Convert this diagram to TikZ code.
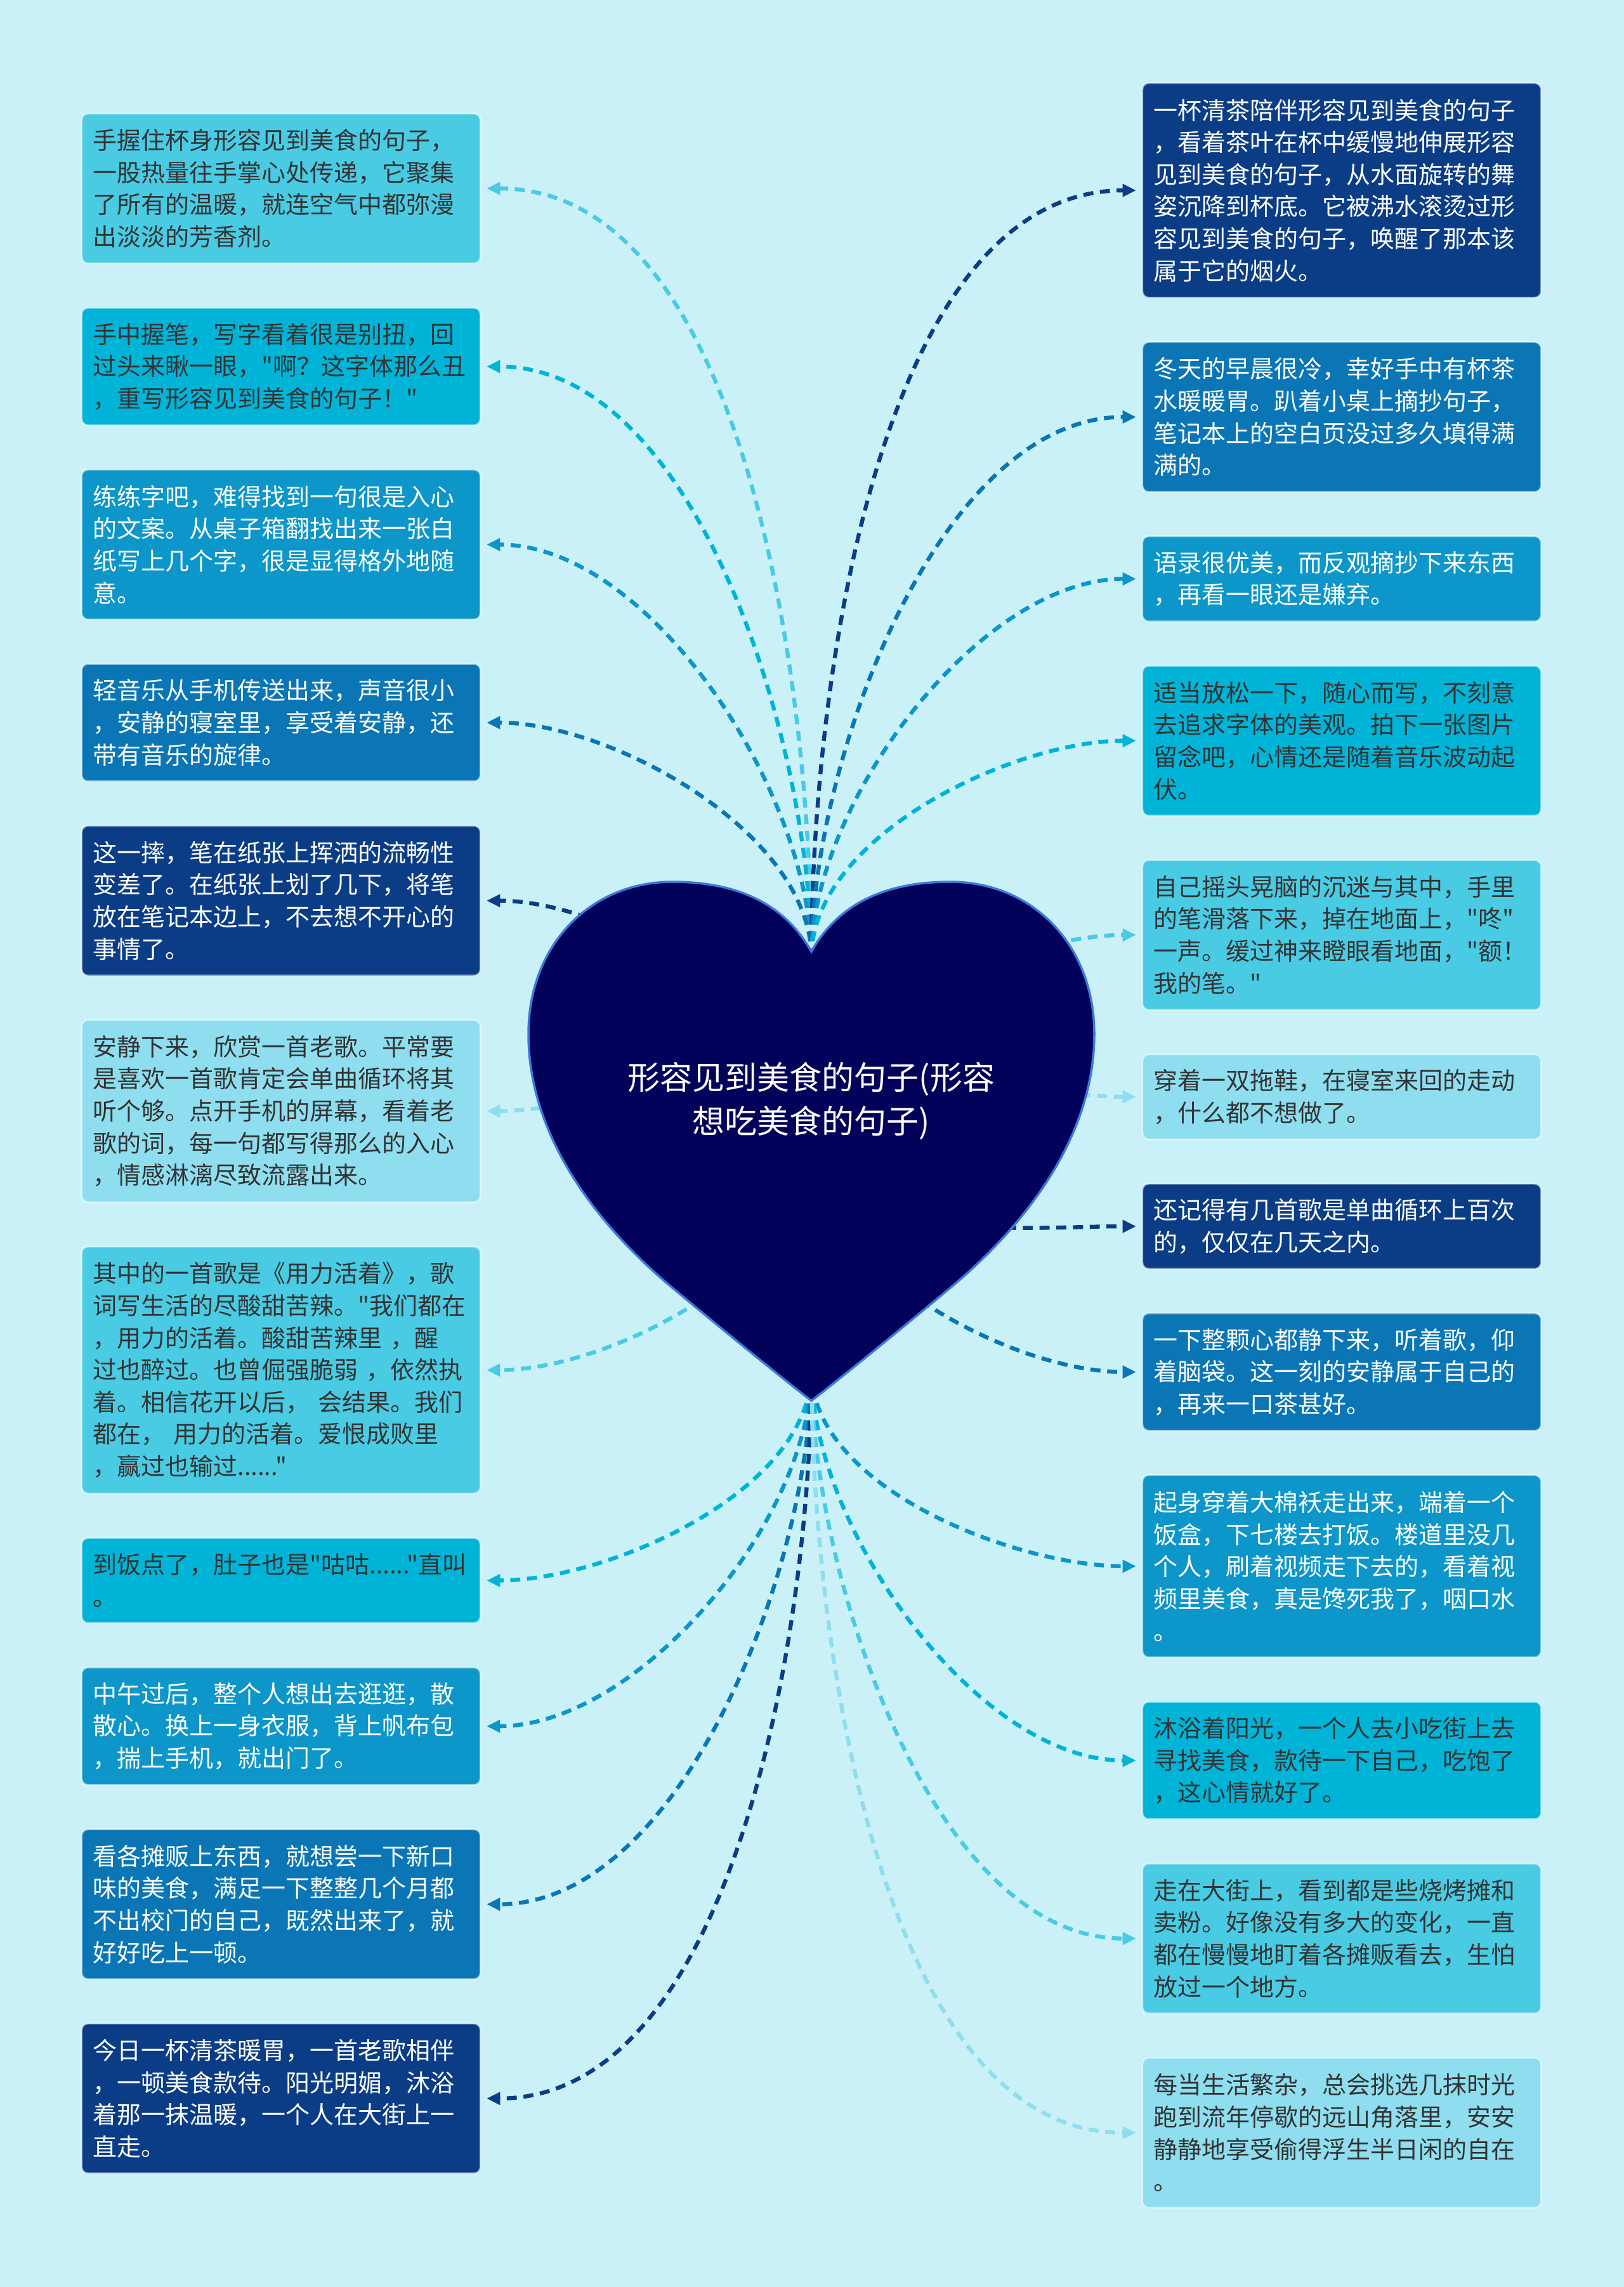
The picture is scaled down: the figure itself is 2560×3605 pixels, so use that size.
\documentclass[tikz,border=0pt]{standalone}
\usepackage{fontspec}
\setmainfont{Noto Sans CJK SC}[Ligatures=TeXOff]
\usepackage{tikz}
\usetikzlibrary{arrows.meta,positioning}
\usepackage{xcolor}
\definecolor{PageBg}{HTML}{CBF1F8}
\definecolor{HeartFill}{HTML}{02025A}
\definecolor{HeartRim}{HTML}{3C78DC}
\definecolor{BoxNavy}{HTML}{0B3D87}
\definecolor{BoxBlue}{HTML}{0A76B6}
\definecolor{BoxMid}{HTML}{0C96C9}
\definecolor{BoxCyan}{HTML}{00B4D7}
\definecolor{BoxLight}{HTML}{4ACBE4}
\definecolor{BoxPale}{HTML}{8EDEEF}
\definecolor{InkDark}{HTML}{333333}

\begin{document}
\begin{tikzpicture}[x=0.01cm,y=0.01cm,node distance=0.7cm,
  note/.style={rounded corners=0.1cm,text width=5.92cm,inner xsep=0.18cm,inner ysep=0.1cm,
    outer xsep=0.1cm,outer ysep=0pt,align=left,draw=white,draw opacity=0.5,line width=0.8pt,
    font=\fontsize{10.8}{14.4}\selectfont},
  nl/.style={minimum height=0.32cm+#1*0.51cm},
  navynote/.style={fill=BoxNavy,text=white},
  bluenote/.style={fill=BoxBlue,text=white},
  midnote/.style={fill=BoxMid,text=white},
  cyannote/.style={fill=BoxCyan,text=InkDark},
  lightnote/.style={fill=BoxLight,text=InkDark},
  palenote/.style={fill=BoxPale,text=InkDark},
  link/.style={draw=#1,line width=1.8pt,dash pattern=on 4.5pt off 3pt,looseness=0.8,
    -{Triangle[length=6pt,width=5.5pt]}}]
\fill[PageBg] (0,0) rectangle (2560,-3605);

% left column
\node[note,nl=4,lightnote,anchor=north] (L1) at (443,-179) {手握住杯身形容见到美食的句子，\\一股热量往手掌心处传递，它聚集\\了所有的温暖，就连空气中都弥漫\\出淡淡的芳香剂。};
\node[note,nl=3,cyannote,below=of L1] (L2) {手中握笔，写字看着很是别扭，回\\过头来瞅一眼，"啊？这字体那么丑\\，重写形容见到美食的句子！"};
\node[note,nl=4,midnote,below=of L2] (L3) {练练字吧，难得找到一句很是入心\\的文案。从桌子箱翻找出来一张白\\纸写上几个字，很是显得格外地随\\意。};
\node[note,nl=3,bluenote,below=of L3] (L4) {轻音乐从手机传送出来，声音很小\\，安静的寝室里，享受着安静，还\\带有音乐的旋律。};
\node[note,nl=4,navynote,below=of L4] (L5) {这一摔，笔在纸张上挥洒的流畅性\\变差了。在纸张上划了几下，将笔\\放在笔记本边上，不去想不开心的\\事情了。};
\node[note,nl=5,palenote,below=of L5] (L6) {安静下来，欣赏一首老歌。平常要\\是喜欢一首歌肯定会单曲循环将其\\听个够。点开手机的屏幕，看着老\\歌的词，每一句都写得那么的入心\\，情感淋漓尽致流露出来。};
\node[note,nl=7,lightnote,below=of L6] (L7) {其中的一首歌是《用力活着》，歌\\词写生活的尽酸甜苦辣。"我们都在\\，用力的活着。酸甜苦辣里 ，醒\\过也醉过。也曾倔强脆弱 ，依然执\\着。相信花开以后， 会结果。我们\\都在， 用力的活着。爱恨成败里\\，赢过也输过......"};
\node[note,nl=2,cyannote,below=of L7] (L8) {到饭点了，肚子也是"咕咕......"直叫\\。};
\node[note,nl=3,midnote,below=of L8] (L9) {中午过后，整个人想出去逛逛，散\\散心。换上一身衣服，背上帆布包\\，揣上手机，就出门了。};
\node[note,nl=4,bluenote,below=of L9] (L10) {看各摊贩上东西，就想尝一下新口\\味的美食，满足一下整整几个月都\\不出校门的自己，既然出来了，就\\好好吃上一顿。};
\node[note,nl=4,navynote,below=of L10] (L11) {今日一杯清茶暖胃，一首老歌相伴\\，一顿美食款待。阳光明媚，沐浴\\着那一抹温暖，一个人在大街上一\\直走。};

% right column
\node[note,nl=6,navynote,anchor=north] (R1) at (2115,-131) {一杯清茶陪伴形容见到美食的句子\\，看着茶叶在杯中缓慢地伸展形容\\见到美食的句子，从水面旋转的舞\\姿沉降到杯底。它被沸水滚烫过形\\容见到美食的句子，唤醒了那本该\\属于它的烟火。};
\node[note,nl=4,bluenote,below=of R1] (R2) {冬天的早晨很冷，幸好手中有杯茶\\水暖暖胃。趴着小桌上摘抄句子，\\笔记本上的空白页没过多久填得满\\满的。};
\node[note,nl=2,midnote,below=of R2] (R3) {语录很优美，而反观摘抄下来东西\\，再看一眼还是嫌弃。};
\node[note,nl=4,cyannote,below=of R3] (R4) {适当放松一下，随心而写，不刻意\\去追求字体的美观。拍下一张图片\\留念吧，心情还是随着音乐波动起\\伏。};
\node[note,nl=4,lightnote,below=of R4] (R5) {自己摇头晃脑的沉迷与其中，手里\\的笔滑落下来，掉在地面上，"咚"\\一声。缓过神来瞪眼看地面，"额！\\我的笔。"};
\node[note,nl=2,palenote,below=of R5] (R6) {穿着一双拖鞋，在寝室来回的走动\\，什么都不想做了。};
\node[note,nl=2,navynote,below=of R6] (R7) {还记得有几首歌是单曲循环上百次\\的，仅仅在几天之内。};
\node[note,nl=3,bluenote,below=of R7] (R8) {一下整颗心都静下来，听着歌，仰\\着脑袋。这一刻的安静属于自己的\\，再来一口茶甚好。};
\node[note,nl=5,midnote,below=of R8] (R9) {起身穿着大棉袄走出来，端着一个\\饭盒，下七楼去打饭。楼道里没几\\个人，刷着视频走下去的，看着视\\频里美食，真是馋死我了，咽口水\\。};
\node[note,nl=3,cyannote,below=of R9] (R10) {沐浴着阳光，一个人去小吃街上去\\寻找美食，款待一下自己，吃饱了\\，这心情就好了。};
\node[note,nl=4,lightnote,below=of R10] (R11) {走在大街上，看到都是些烧烤摊和\\卖粉。好像没有多大的变化，一直\\都在慢慢地盯着各摊贩看去，生怕\\放过一个地方。};
\node[note,nl=4,palenote,below=of R11] (R12) {每当生活繁杂，总会挑选几抹时光\\跑到流年停歇的远山角落里，安安\\静静地享受偷得浮生半日闲的自在\\。};

% where the links leave the heart
\coordinate (top) at (1279,-1510);
\coordinate (mid) at (1279,-1800);
\coordinate (low) at (1279,-2160);

\draw[link=BoxLight] (top) to[out=90,in=0] (L1.east);
\draw[link=BoxCyan] (top) to[out=90,in=0] (L2.east);
\draw[link=BoxMid] (top) to[out=90,in=0] (L3.east);
\draw[link=BoxBlue] (top) to[out=90,in=0] (L4.east);
\draw[link=BoxNavy] (mid) to[out=90,in=0] (L5.east);
\draw[link=BoxPale] (mid) to[out=90,in=0] (L6.east);
\draw[link=BoxLight] (mid) to[out=-90,in=0] (L7.east);
\draw[link=BoxCyan] (low) to[out=-90,in=0] (L8.east);
\draw[link=BoxMid] (low) to[out=-90,in=0] (L9.east);
\draw[link=BoxBlue] (low) to[out=-90,in=0] (L10.east);
\draw[link=BoxNavy] (low) to[out=-90,in=0] (L11.east);

\draw[link=BoxNavy] (top) to[out=90,in=180] (R1.west);
\draw[link=BoxBlue] (top) to[out=90,in=180] (R2.west);
\draw[link=BoxMid] (top) to[out=90,in=180] (R3.west);
\draw[link=BoxCyan] (top) to[out=90,in=180] (R4.west);
\draw[link=BoxLight] (mid) to[out=90,in=180] (R5.west);
\draw[link=BoxPale] (mid) to[out=90,in=180] (R6.west);
\draw[link=BoxNavy] (mid) to[out=-90,in=180] (R7.west);
\draw[link=BoxBlue] (mid) to[out=-90,in=180] (R8.west);
\draw[link=BoxMid] (low) to[out=-90,in=180] (R9.west);
\draw[link=BoxCyan] (low) to[out=-90,in=180] (R10.west);
\draw[link=BoxLight] (low) to[out=-90,in=180] (R11.west);
\draw[link=BoxPale] (low) to[out=-90,in=180] (R12.west);

% heart
\filldraw[fill=HeartFill,draw=HeartRim,line width=1pt]
  (1279,-1500) .. controls (1240,-1430) and (1170,-1390) .. (1060,-1390)
  .. controls (930,-1390) and (833,-1490) .. (833,-1630)
  .. controls (833,-1790) and (940,-1930) .. (1060,-2030)
  .. controls (1150,-2105) and (1230,-2170) .. (1279,-2208)
  .. controls (1328,-2170) and (1408,-2105) .. (1498,-2030)
  .. controls (1618,-1930) and (1725,-1790) .. (1725,-1630)
  .. controls (1725,-1490) and (1628,-1390) .. (1498,-1390)
  .. controls (1388,-1390) and (1318,-1430) .. (1279,-1500) -- cycle;
\node[align=center,text=white,font=\fontsize{14.5}{19.6}\selectfont] (title) at (1279,-1735) {形容见到美食的句子(形容\\想吃美食的句子)};
\end{tikzpicture}
\end{document}
